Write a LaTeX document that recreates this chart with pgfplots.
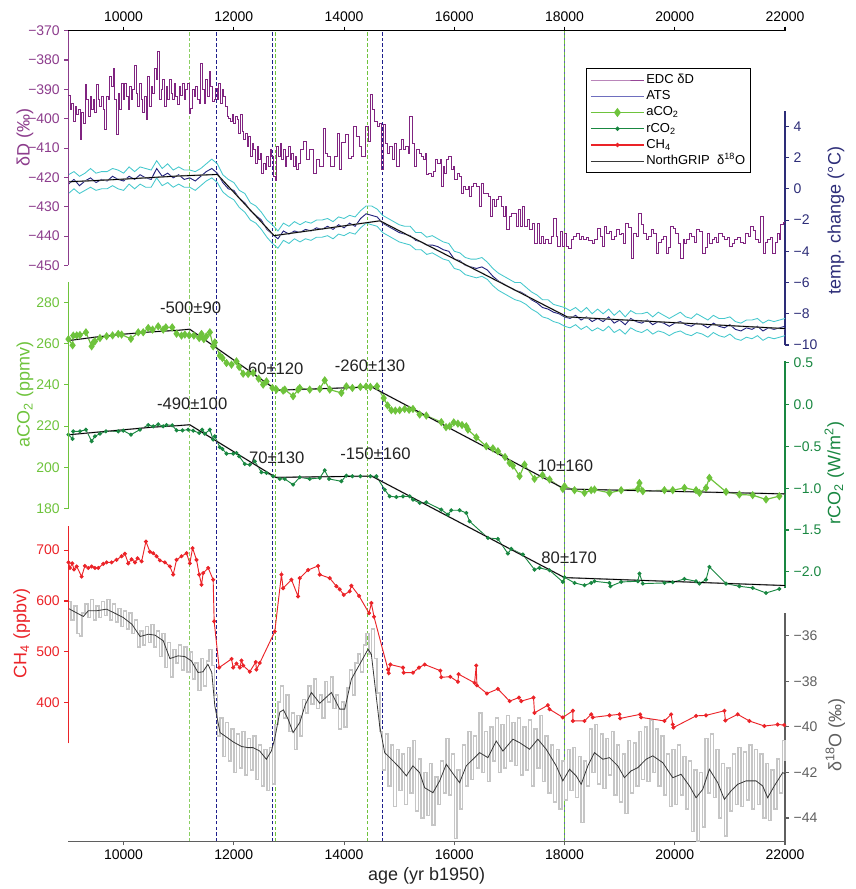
\documentclass[border=0pt]{standalone}
\usepackage{fontspec}
\setmainfont{Liberation Sans}
\usepackage{pgfplots}
\pgfplotsset{compat=1.18}
\usepackage{pgfplotstable}

\definecolor{cdD}{RGB}{128,36,128}
\definecolor{cdDl}{RGB}{150,70,150}
\definecolor{cdDax}{RGB}{140,60,140}
\definecolor{cATS}{RGB}{35,35,125}
\definecolor{cATSl}{RGB}{110,110,190}
\definecolor{cTax}{RGB}{45,45,120}
\definecolor{ccyan}{RGB}{70,200,205}
\definecolor{caCO}{RGB}{110,195,60}
\definecolor{crCO}{RGB}{25,135,65}
\definecolor{cCH}{RGB}{235,35,40}
\definecolor{cOs}{RGB}{55,55,55}
\definecolor{cOraw}{RGB}{198,198,198}
\definecolor{cOax}{RGB}{95,95,95}
\definecolor{cgd}{RGB}{110,195,60}
\definecolor{cnd}{RGB}{30,30,140}
\definecolor{ctext}{RGB}{35,35,35}

\pgfplotstableread{
yr v
9000 -392
9030 -397
9060 -394.7
9090 -401
9120 -395.9
9150 -398.7
9180 -397
9210 -407.2
9240 -398
9270 -401.6
9300 -388.5
9330 -393.6
9360 -399.3
9390 -392.5
9420 -397
9450 -393.6
9480 -398
9510 -388.5
9540 -393.6
9570 -395.9
9600 -392.5
9630 -397
9660 -403.8
9690 -392.5
9720 -393.6
9750 -385.7
9780 -389.1
9810 -382.8
9840 -393.6
9870 -405.5
9900 -391.3
9930 -397
9960 -388
9990 -393.6
10020 -388
10050 -392.5
10080 -397
10110 -389
10140 -393.6
10170 -390.2
10200 -381.7
10230 -391.3
10260 -395.9
10290 -388
10320 -393.6
10350 -398
10380 -392.5
10410 -400.4
10440 -385.7
10470 -395.9
10500 -389
10530 -391.3
10560 -382.8
10590 -386.8
10620 -377.2
10650 -393.6
10680 -390.2
10710 -386.8
10740 -395.9
10770 -389
10800 -393.6
10830 -386.8
10860 -391.3
10890 -393.6
10920 -388
10950 -392.5
10980 -395.3
11010 -389
11040 -392
11070 -388
11100 -393.6
11130 -390.2
11160 -388
11190 -398.2
11220 -396.4
11250 -390.2
11280 -392.5
11310 -389
11340 -393.6
11370 -394.7
11400 -381.1
11430 -390.2
11460 -394.7
11490 -386.8
11520 -392.5
11550 -384
11580 -389
11610 -394.2
11640 -393.6
11670 -389.6
11700 -393.6
11730 -388
11760 -394.7
11790 -390.2
11820 -392.5
11850 -395.9
11880 -399.3
11910 -399.9
11940 -401
11970 -398.7
12000 -401.6
12030 -399.3
12060 -400.4
12090 -405
12120 -398.7
12150 -404.4
12180 -407.2
12210 -405
12240 -409.5
12270 -406.1
12300 -412.9
12330 -408.4
12360 -410.6
12390 -415.2
12420 -409.5
12450 -414
12480 -411.8
12510 -418.6
12540 -415.2
12570 -417.4
12600 -412.9
12630 -416.3
12660 -410.6
12690 -412.9
12720 -419.7
12750 -420.9
12780 -409.5
12810 -412.9
12840 -408.4
12870 -414
12900 -410.6
12930 -416.3
12960 -412.9
12990 -409.5
13020 -414
13050 -411.8
13080 -416.3
13110 -412.9
13140 -417.4
13170 -415.2
13200 -410.6
13260 -407.8
13320 -414
13380 -410.6
13440 -418.6
13500 -414
13560 -416.3
13620 -403.2
13660 -411.7
13700 -412.9
13760 -416.3
13820 -412.9
13880 -405
13920 -417.4
13960 -408
14020 -405.5
14080 -413.4
14130 -412.9
14170 -402.7
14230 -406.1
14280 -409.5
14320 -413
14380 -402.7
14440 -407.8
14470 -391.9
14510 -397
14550 -401
14600 -402.7
14640 -401.5
14680 -417.4
14710 -402.1
14750 -408.3
14790 -411.7
14830 -409.5
14870 -414
14910 -408.3
14950 -416.3
15000 -410.6
15040 -407.2
15080 -410.6
15120 -409.5
15160 -411.7
15195 -399.3
15240 -408.3
15280 -416.3
15320 -410.6
15360 -411.7
15400 -412.9
15440 -414
15480 -411.7
15500 -419.1
15540 -418.6
15580 -419.7
15620 -418
15660 -414
15700 -415.2
15740 -414
15770 -423.1
15800 -416.3
15830 -418.6
15860 -414
15900 -412.9
15940 -417.4
15980 -416.3
16010 -420.8
16050 -418.6
16090 -419.7
16130 -425.4
16170 -423.1
16210 -424.2
16250 -423.1
16280 -426.5
16310 -423.1
16350 -422
16400 -423.1
16460 -429.9
16490 -422
16530 -425.4
16580 -425.4
16620 -426.5
16650 -433.3
16690 -427.6
16730 -429.9
16770 -427.6
16800 -426.5
16850 -429.9
16890 -433.3
16930 -429.9
16950 -437.8
17000 -433.3
17040 -432.2
17090 -432.2
17120 -436.7
17160 -431
17200 -436.7
17240 -429.9
17280 -436.7
17320 -434.4
17370 -437.8
17410 -435.6
17460 -442.4
17500 -435.6
17540 -442.4
17580 -440.1
17610 -442.4
17660 -441.2
17700 -442.4
17760 -440.1
17790 -433.9
17850 -440.1
17880 -443.5
17920 -438.4
17960 -443.5
18000 -439
18040 -443.5
18080 -444.1
18130 -441.2
18170 -440.1
18210 -439
18270 -441.2
18300 -440
18340 -441.2
18400 -440.3
18440 -441.5
18500 -442.4
18550 -441
18600 -437.3
18650 -440
18680 -443.5
18720 -436.7
18760 -439
18810 -438.5
18850 -441.2
18900 -440
18940 -437.9
18990 -439.5
19030 -439
19060 -442.4
19110 -435.6
19160 -437
19210 -447.5
19250 -439
19300 -440
19350 -432.2
19400 -436
19440 -439
19480 -441.2
19530 -440
19570 -437.9
19620 -439
19660 -445.8
19710 -442
19750 -441.2
19800 -440
19840 -445.8
19880 -444
19930 -436.7
19980 -437.5
20020 -439
20060 -442.4
20110 -447.5
20150 -441
20170 -442.4
20220 -441
20260 -439
20310 -440
20360 -442
20390 -437.9
20440 -438.5
20500 -445.8
20550 -444
20590 -439
20630 -442.4
20680 -441.2
20720 -440.5
20760 -442
20800 -439
20860 -440
20900 -441.2
20950 -440.6
20990 -443.5
21040 -442.4
21080 -441.2
21130 -440.3
21190 -442
21240 -442.4
21290 -439
21340 -440
21380 -436.7
21430 -438
21470 -441.2
21520 -442
21560 -433.3
21600 -445.8
21650 -442
21680 -441.2
21740 -440.5
21770 -445.8
21830 -442
21860 -439
21900 -441
21920 -436.1
21980 -435.5
22000 -435.5
}\dDdata

\pgfplotstableread{
yr ats lo hi
9000 0.3 -0.3 0.9
9100 0.6 0.0 1.1
9200 0.2 -0.3 0.8
9300 0.5 -0.1 1.0
9400 0.7 0.1 1.3
9500 0.4 -0.1 1.0
9600 0.6 0.0 1.1
9700 0.5 0.0 1.1
9800 0.8 0.2 1.3
9900 0.6 0.0 1.2
10000 0.5 -0.1 1.0
10100 0.8 0.3 1.4
10200 0.6 0.0 1.1
10300 0.9 0.3 1.4
10400 0.7 0.1 1.3
10500 0.6 0.1 1.2
10600 1.3 0.7 1.8
10700 0.8 0.2 1.3
10800 1.0 0.4 1.6
10900 0.7 0.1 1.2
11000 0.9 0.3 1.4
11100 0.6 0.1 1.2
11200 0.7 0.1 1.2
11300 0.5 -0.1 1.1
11400 0.8 0.2 1.3
11500 1.1 0.5 1.6
11600 1.3 0.7 1.9
11700 1.0 0.4 1.6
11800 0.4 -0.2 0.9
11900 0.0 -0.5 0.6
12000 -0.1 -0.7 0.4
12100 -0.6 -1.2 -0.1
12200 -0.9 -1.5 -0.3
12300 -1.4 -2.0 -0.9
12400 -1.7 -2.2 -1.1
12500 -2.0 -2.6 -1.5
12600 -2.6 -3.1 -2.0
12700 -2.9 -3.5 -2.3
12800 -3.2 -3.8 -2.7
12900 -2.7 -3.3 -2.2
13000 -2.9 -3.5 -2.4
13100 -2.7 -3.2 -2.1
13200 -2.8 -3.4 -2.3
13300 -2.6 -3.2 -2.1
13400 -2.7 -3.3 -2.2
13500 -2.5 -3.1 -2.0
13600 -2.6 -3.1 -2.0
13700 -2.4 -3.0 -1.9
13800 -2.6 -3.2 -2.1
13900 -2.3 -2.9 -1.8
14000 -2.5 -3.0 -1.9
14100 -2.2 -2.8 -1.7
14200 -2.4 -2.9 -1.8
14300 -1.9 -2.5 -1.4
14400 -1.6 -2.2 -1.1
14500 -1.7 -2.3 -1.1
14600 -1.8 -2.4 -1.3
14700 -2.2 -2.8 -1.7
14800 -2.4 -3.0 -1.9
14900 -2.6 -3.2 -2.1
15000 -2.8 -3.4 -2.3
15100 -2.9 -3.5 -2.4
15200 -3.0 -3.6 -2.4
15300 -3.3 -3.9 -2.8
15400 -3.4 -3.9 -2.8
15500 -3.6 -4.2 -3.1
15600 -3.6 -4.1 -3.0
15700 -3.7 -4.3 -3.2
15800 -3.9 -4.5 -3.4
15900 -4.0 -4.6 -3.5
16000 -4.5 -5.1 -4.0
16100 -4.6 -5.2 -4.1
16200 -4.9 -5.5 -4.4
16300 -5.0 -5.6 -4.5
16400 -5.1 -5.7 -4.5
16500 -5.0 -5.6 -4.4
16600 -5.2 -5.8 -4.7
16700 -5.6 -6.2 -5.1
16800 -5.9 -6.5 -5.4
16900 -6.1 -6.7 -5.6
17000 -6.3 -6.9 -5.8
17100 -6.5 -7.1 -6.0
17200 -6.6 -7.2 -6.0
17300 -6.8 -7.4 -6.3
17400 -7.1 -7.7 -6.6
17500 -7.3 -7.9 -6.8
17600 -7.6 -8.2 -7.1
17700 -7.7 -8.3 -7.1
17800 -7.9 -8.5 -7.4
17900 -8.0 -8.6 -7.5
18000 -8.2 -8.8 -7.6
18100 -8.3 -8.9 -7.8
18200 -8.1 -8.7 -7.6
18300 -8.4 -9.0 -7.9
18400 -8.2 -8.8 -7.6
18500 -8.5 -9.1 -8.0
18600 -8.3 -8.9 -7.7
18700 -8.5 -9.1 -8.0
18800 -8.2 -8.8 -7.7
18900 -8.6 -9.2 -8.1
19000 -8.4 -9.0 -7.8
19100 -8.7 -9.3 -8.2
19200 -8.3 -8.9 -7.8
19300 -8.5 -9.1 -8.0
19400 -8.6 -9.2 -8.0
19500 -8.4 -9.0 -7.9
19600 -8.7 -9.3 -8.2
19700 -8.5 -9.1 -7.9
19800 -8.6 -9.2 -8.1
19900 -8.8 -9.4 -8.3
20000 -8.6 -9.2 -8.1
20100 -8.5 -9.1 -7.9
20200 -8.7 -9.3 -8.2
20300 -8.8 -9.4 -8.3
20400 -8.6 -9.2 -8.0
20500 -8.7 -9.3 -8.2
20600 -8.9 -9.5 -8.4
20700 -8.6 -9.2 -8.1
20800 -8.8 -9.4 -8.3
20900 -8.9 -9.5 -8.3
21000 -8.7 -9.3 -8.2
21100 -9.0 -9.6 -8.5
21200 -9.1 -9.7 -8.6
21300 -8.9 -9.5 -8.4
21400 -9.0 -9.6 -8.4
21500 -8.8 -9.4 -8.3
21600 -9.1 -9.7 -8.6
21700 -8.9 -9.5 -8.4
21800 -9.0 -9.6 -8.5
21900 -8.9 -9.5 -8.4
22000 -8.8 -9.4 -8.3
}\atsdata

\pgfplotstableread{
yr v
9000 262.2
9075 259.2
9087 263.9
9150 264.0
9208 264.2
9317 265.5
9420 258.7
9450 260.5
9480 261.1
9571 262.7
9692 263.6
9800 264.0
9903 264.7
9964 264.4
10133 262.3
10266 265.5
10356 265.5
10447 267.6
10526 266.8
10628 268.4
10719 266.8
10767 267.9
10882 267.9
10961 264.8
11051 263.9
11112 264.4
11190 264.0
11275 263.9
11372 262.7
11414 264.7
11456 262.2
11500 263.5
11565 265.5
11625 258.7
11655 260.6
11746 254.2
11794 253.0
11867 250.6
11958 249.8
12048 251.4
12097 248.7
12169 245.4
12260 245.3
12350 245.8
12450 243.0
12532 240.1
12592 241.7
12700 238.5
12773 237.7
12894 237.2
12924 237.7
13075 234.5
13166 237.7
13196 238.5
13377 237.7
13559 238.0
13649 242.2
13740 237.7
13951 236.1
14042 239.3
14151 238.5
14296 239.0
14400 239.2
14477 239.0
14598 239.3
14719 233.6
14790 230.0
14858 227.7
14930 227.5
15009 227.7
15099 228.3
15180 227.9
15250 228.3
15371 225.6
15492 225.1
15764 221.9
15850 219.5
15915 219.9
15990 221.8
16065 221.2
16140 220.5
16217 219.9
16247 218.3
16400 214.5
16580 210.2
16700 209.2
16791 207.8
16920 205.0
17003 202.1
17063 200.8
17184 195.7
17274 201.3
17455 194.4
17600 196.2
17728 194.1
17969 189.5
17999 190.8
18181 188.9
18362 187.6
18483 188.9
18543 189.2
18815 187.6
19027 188.9
19329 189.5
19359 192.4
19420 188.4
19812 188.9
19963 188.9
20175 190.0
20386 188.9
20447 187.6
20567 190.0
20628 194.9
20930 188.1
21172 186.8
21413 186.5
21655 184.4
21896 186.0
}\aCOdata

\pgfplotstableread{
yr v
9000 -0.359
9075 -0.410
9087 -0.319
9208 -0.319
9317 -0.299
9420 -0.438
9480 -0.378
9571 -0.347
9680 -0.319
9903 -0.319
9994 -0.311
10133 -0.359
10296 -0.299
10447 -0.243
10538 -0.259
10628 -0.235
10719 -0.259
10779 -0.243
10882 -0.247
10961 -0.307
11069 -0.307
11172 -0.299
11263 -0.311
11372 -0.339
11426 -0.299
11474 -0.347
11565 -0.299
11625 -0.418
11655 -0.378
11746 -0.510
11794 -0.530
11867 -0.586
11988 -0.586
12048 -0.578
12097 -0.618
12199 -0.710
12290 -0.718
12380 -0.678
12501 -0.809
12592 -0.817
12713 -0.857
12834 -0.889
12924 -0.889
13075 -0.957
13196 -0.869
13377 -0.889
13559 -0.877
13649 -0.785
13728 -0.889
13951 -0.917
14042 -0.849
14151 -0.857
14296 -0.857
14477 -0.857
14586 -0.857
14737 -1.017
14827 -1.097
14948 -1.105
15069 -1.097
15190 -1.097
15250 -1.136
15371 -1.176
15492 -1.168
15764 -1.256
15885 -1.316
15945 -1.264
16096 -1.264
16217 -1.296
16277 -1.396
16610 -1.595
16791 -1.607
16972 -1.782
17033 -1.726
17244 -1.794
17455 -1.974
17546 -1.954
17728 -1.982
17969 -2.122
17999 -2.066
18181 -2.134
18362 -2.162
18483 -2.134
18543 -2.114
18815 -2.134
18833 -2.174
19027 -2.122
19329 -2.114
19359 -2.022
19420 -2.142
19812 -2.134
19963 -2.126
20175 -2.086
20386 -2.114
20447 -2.142
20567 -2.094
20628 -1.942
20930 -2.142
21172 -2.174
21413 -2.194
21655 -2.254
21896 -2.206
}\rCOdata

\pgfplotstableread{
yr v
9000 676
9027 665
9069 674
9100 662
9150 668
9238 648
9298 669
9359 665
9420 668
9480 665
9541 665
9631 673
9692 676
9782 676
9873 681
9964 688
10024 693
10085 674
10145 682
10206 676
10254 684
10327 678
10405 717
10477 697
10538 694
10598 688
10658 680
10749 676
10840 668
10900 652
10961 681
11051 688
11142 694
11202 674
11251 704
11323 681
11372 652
11414 632
11444 655
11535 665
11625 642
11643 560
11734 469
11958 486
11988 469
12048 477
12109 469
12139 483
12169 473
12290 461
12398 480
12410 465
12471 478
12743 540
12864 652
12894 625
13045 642
13166 609
13196 645
13347 661
13528 669
13559 652
13740 645
13861 629
13921 623
13994 612
14102 619
14133 630
14272 610
14453 576
14495 596
14543 569
14797 465
14810 458
14840 475
15069 469
15081 459
15250 459
15359 469
15462 475
15746 463
15764 450
15927 451
16066 441
16078 456
16368 439
16398 473
16410 434
16592 418
16791 427
17003 403
17172 410
17214 403
17437 410
17455 380
17697 395
17728 387
17969 371
18151 384
18151 364
18362 364
18483 377
18513 371
18815 375
18996 377
19008 369
19371 377
19389 371
19812 364
19933 377
19963 357
19975 351
20386 374
20567 375
20900 384
20918 365
21141 377
21353 364
21625 354
21866 357
21987 356
}\CHdata

\pgfplotstableread{
yr v
9000 -34.80
9130 -34.97
9270 -35.15
9360 -34.90
9510 -34.90
9690 -34.83
9810 -34.97
9990 -35.19
10150 -35.49
10300 -36.03
10450 -35.93
10570 -35.97
10720 -36.22
10840 -37.0
10990 -36.88
11110 -36.91
11230 -37.10
11350 -37.61
11440 -37.58
11530 -37.25
11600 -37.61
11655 -39.08
11750 -40.25
11840 -40.40
11990 -40.66
12140 -40.86
12260 -40.91
12350 -40.91
12470 -41.06
12590 -41.42
12680 -41.06
12740 -40.54
12834 -39.35
12900 -39.25
12985 -39.66
13075 -40.25
13196 -39.81
13300 -39.0
13408 -38.49
13559 -38.96
13770 -38.49
13921 -39.22
14012 -39.22
14133 -37.90
14284 -37.25
14435 -36.59
14495 -36.81
14646 -39.96
14737 -41.13
14858 -41.42
15009 -41.79
15130 -42.15
15250 -41.71
15371 -42.01
15462 -42.67
15613 -42.89
15734 -42.37
15855 -41.64
16005 -42.15
16096 -42.45
16217 -41.71
16459 -41.13
16610 -41.35
16761 -40.62
16882 -41.06
17063 -40.54
17184 -40.69
17365 -40.98
17516 -40.54
17667 -40.98
17849 -41.71
17969 -42.37
18090 -41.86
18211 -42.15
18302 -42.52
18423 -41.71
18543 -41.13
18694 -41.42
18815 -41.35
18966 -41.71
19087 -42.23
19208 -41.93
19329 -41.79
19480 -41.42
19601 -41.27
19782 -41.57
19963 -42.23
20114 -42.08
20266 -42.59
20386 -43.11
20507 -42.74
20628 -41.86
20779 -42.45
20900 -43.18
21020 -42.81
21141 -42.52
21292 -42.37
21474 -42.37
21594 -42.59
21685 -43.11
21806 -42.59
21957 -42.01
22000 -42.05
}\Osdata

\pgfplotstableread{
yr v
9000 -34.5
9050 -35.3
9100 -34.7
9150 -35.9
9200 -36.0
9250 -35.0
9300 -34.6
9350 -35.2
9400 -34.4
9450 -35.3
9500 -34.7
9550 -35.2
9600 -34.5
9650 -35.1
9700 -34.4
9750 -35.3
9800 -34.6
9850 -35.4
9900 -34.8
9950 -35.6
10000 -34.9
10050 -35.7
10100 -35.0
10150 -35.9
10200 -35.3
10250 -36.5
10300 -35.8
10350 -36.4
10400 -35.6
10450 -36.3
10500 -35.5
10550 -36.5
10600 -35.8
10650 -36.9
10700 -35.9
10750 -37.4
10800 -36.3
10850 -37.8
10900 -36.6
10950 -37.2
11000 -36.4
11050 -37.5
11100 -36.5
11150 -37.6
11200 -36.7
11250 -37.9
11300 -37.2
11350 -38.4
11400 -37.0
11450 -38.2
11500 -37.1
11550 -36.6
11600 -37.3
11650 -38.6
11700 -40.4
11750 -39.6
11800 -41.3
11850 -39.8
11900 -41.5
11950 -40.1
12000 -42.0
12050 -40.3
12100 -41.8
12150 -40.2
12200 -42.1
12250 -40.5
12300 -41.9
12350 -40.4
12400 -42.3
12450 -40.8
12500 -42.6
12550 -41.0
12600 -42.8
12650 -40.9
12700 -42.5
12750 -39.9
12800 -38.9
12850 -38.2
12900 -39.6
12950 -38.6
13000 -40.2
13050 -39.4
13100 -41.0
13150 -39.5
13200 -40.4
13250 -38.8
13300 -39.4
13350 -38.2
13400 -39.0
13450 -37.9
13500 -39.2
13550 -38.6
13600 -39.6
13650 -38.0
13700 -38.9
13750 -37.8
13800 -39.2
13850 -38.6
13900 -40.1
13950 -38.9
14000 -40.0
14050 -38.3
14100 -37.5
14150 -38.6
14200 -37.2
14250 -36.8
14300 -37.6
14350 -36.4
14400 -35.9
14450 -36.8
14500 -35.7
14550 -37.0
14600 -38.5
14650 -40.2
14700 -41.9
14750 -40.3
14800 -42.6
14850 -40.8
14900 -43.5
14950 -41.0
15000 -42.8
15050 -41.2
15100 -43.4
15150 -40.9
15200 -42.9
15250 -40.6
15300 -43.7
15350 -41.4
15400 -44.0
15450 -42.0
15500 -43.9
15550 -41.6
15600 -44.3
15650 -42.2
15700 -43.4
15750 -41.5
15800 -42.9
15850 -40.5
15900 -43.0
15950 -41.2
16000 -44.9
16050 -41.9
16100 -43.6
16150 -40.8
16200 -42.6
16250 -40.2
16300 -42.3
16350 -40.4
16400 -41.8
16450 -39.4
16500 -42.0
16550 -40.2
16600 -42.4
16650 -40.0
16700 -41.5
16750 -39.6
16800 -42.0
16850 -39.9
16900 -41.8
16950 -39.5
17000 -41.5
17050 -39.8
17100 -41.7
17150 -39.6
17200 -42.1
17250 -40.0
17300 -41.9
17350 -39.7
17400 -42.6
17450 -40.1
17500 -41.8
17550 -39.5
17600 -42.4
17650 -40.4
17700 -42.9
17750 -40.8
17800 -43.3
17850 -41.0
17900 -43.6
17950 -41.5
18000 -43.2
18050 -41.0
18100 -42.8
18150 -40.9
18200 -43.1
18250 -41.3
18300 -44.2
18350 -41.5
18400 -42.6
18450 -40.1
18500 -42.0
18550 -39.9
18600 -42.5
18650 -40.3
18700 -42.7
18750 -40.5
18800 -42.1
18850 -40.2
18900 -43.0
18950 -40.8
19000 -43.3
19050 -41.2
19100 -43.8
19150 -40.6
19200 -42.9
19250 -40.7
19300 -42.6
19350 -40.2
19400 -42.3
19450 -40.0
19500 -42.4
19550 -39.7
19600 -42.0
19650 -40.1
19700 -42.6
19750 -40.4
19800 -43.0
19850 -41.2
19900 -43.5
19950 -41.0
20000 -43.4
20050 -40.8
20100 -43.0
20150 -41.3
20200 -43.6
20250 -41.5
20300 -44.6
20350 -41.9
20400 -45.0
20450 -42.0
20500 -44.4
20550 -40.5
20600 -42.9
20650 -40.3
20700 -43.1
20750 -41.0
20800 -44.0
20850 -41.6
20900 -44.8
20950 -41.8
21000 -43.7
21050 -41.2
21100 -43.4
21150 -40.9
21200 -43.5
21250 -41.1
21300 -43.2
21350 -40.8
21400 -43.6
21450 -41.0
21500 -43.4
21550 -41.2
21600 -44.0
21650 -41.6
21700 -44.1
21750 -41.9
21800 -43.6
21850 -41.4
21900 -42.9
21950 -40.6
22000 -41.5
}\Orawdata

\pgfplotsset{
  base/.style={scale only axis, width=537.9pt, xmin=9000, xmax=22000, clip=false,
    anchor=south west, tick align=outside, major tick length=3pt,
    axis line style={-}, scaled x ticks=false, scaled y ticks=false,
    ticklabel style={font=\fontsize{10.5}{12}\selectfont}},
  leftax/.style={hide x axis, axis y line*=left, ytick pos=left, yticklabel pos=left,
    y axis line style={#1, line width=0.8pt}, ytick style={#1, line width=0.8pt},
    yticklabel style={text=#1}},
  rightax/.style={hide x axis, axis y line*=right, ytick pos=right, yticklabel pos=right,
    y axis line style={#1, line width=0.8pt}, ytick style={#1, line width=0.8pt},
    yticklabel style={text=#1}},
}

\begin{document}
\begin{tikzpicture}
\path (-51.4pt,-35.25pt) rectangle (590.6pt,631.5pt);

% frame: top axis
\begin{axis}[base, at={(0pt,0pt)}, height=608.5pt, ymin=0, ymax=1, hide y axis,
  axis x line*=top, xtick pos=right, xticklabel pos=right,
  x axis line style={black, line width=0.8pt}, xtick style={black, line width=0.8pt},
  xtick={10000,12000,14000,16000,18000,20000,22000},
  xticklabels={10000,12000,14000,16000,18000,20000,22000}]
\end{axis}

% frame: bottom axis, dashed lines, labels
\begin{axis}[base, at={(0pt,0pt)}, height=608.5pt, ymin=0, ymax=1, hide y axis,
  axis x line*=bottom, xtick pos=left, xticklabel pos=left,
  x axis line style={cOax, line width=0.9pt}, xtick style={cOax, line width=0.8pt},
  xtick={10000,12000,14000,16000,18000,20000,22000},
  xticklabels={10000,12000,14000,16000,18000,20000,22000}]
\addplot[forget plot, cgd!80, line width=0.7pt, dash pattern=on 2.6pt off 1.6pt] coordinates {(11190,0) (11190,1)};
\addplot[forget plot, cnd, line width=0.7pt, dash pattern=on 2.6pt off 1.6pt] coordinates {(11690,0) (11690,1)};
\addplot[forget plot, cnd, line width=0.7pt, dash pattern=on 2.6pt off 1.6pt] coordinates {(12700,0) (12700,1)};
\addplot[forget plot, cgd, line width=0.7pt, dash pattern=on 2.6pt off 1.6pt] coordinates {(12760,0) (12760,1)};
\addplot[forget plot, cgd, line width=0.7pt, dash pattern=on 2.6pt off 1.6pt] coordinates {(14430,0) (14430,1)};
\addplot[forget plot, cnd, line width=0.7pt, dash pattern=on 2.6pt off 1.6pt] coordinates {(14690,0) (14690,1)};
\addplot[forget plot, cnd!70, line width=0.7pt, dash pattern=on 2.6pt off 1.6pt] coordinates {(18000,0) (18000,1)};
\addplot[forget plot, cgd, line width=0.7pt, dash pattern=on 2.6pt off 1.6pt, dash phase=2pt] coordinates {(18000,0) (18000,1)};
\begin{scope}[every node/.style={font=\fontsize{13.5}{16}\selectfont}]
\node[rotate=90, text=cdDax] at (rel axis cs:-0.0607,0.8677) {δD (‰)};
\node[rotate=90, text=cTax] at (rel axis cs:1.0711,0.7654) {temp. change (°C)};
\node[rotate=90, text=caCO] at (rel axis cs:-0.0607,0.551) {aCO\textsubscript{2} (ppmv)};
\node[rotate=90, text=crCO] at (rel axis cs:1.0687,0.4542) {rCO\textsubscript{2} (W/m\textsuperscript{2})};
\node[rotate=90, text=cCH] at (rel axis cs:-0.0653,0.2564) {CH\textsubscript{4} (ppbv)};
\node[rotate=90, text=cOax] at (rel axis cs:1.0701,0.131) {δ\textsuperscript{18}O (‰)};
\node[text=ctext] at (rel axis cs:0.4998,-0.0431) {age (yr b1950)};
\end{scope}
\begin{scope}[every node/.style={font=\fontsize{12.5}{15}\selectfont, text=ctext}]
\node at (rel axis cs:0.1704,0.6582) {-500±90};
\node at (rel axis cs:0.2893,0.5826) {60±120};
\node at (rel axis cs:0.4208,0.5867) {-260±130};
\node at (rel axis cs:0.1726,0.5395) {-490±100};
\node at (rel axis cs:0.2907,0.4730) {70±130};
\node at (rel axis cs:0.4285,0.4774) {-150±160};
\node at (rel axis cs:0.6934,0.4626) {10±160};
\node at (rel axis cs:0.6988,0.3497) {80±170};
\end{scope}
\end{axis}

% delta18O
\begin{axis}[base, rightax=cOax, at={(0pt,0pt)}, height=171.3pt, ymin=-45.02, ymax=-35,
  ytick={-44,-42,-40,-38,-36}, yticklabels={−44,−42,−40,−38,−36}]
\addplot[const plot, cOraw, line width=1.15pt] table[x=yr, y=v] {\Orawdata};
\addplot[cOs, line width=0.6pt] table[x=yr, y=v] {\Osdata};
\end{axis}

% CH4
\begin{axis}[base, leftax=cCH, at={(0pt,73.5pt)}, height=163.3pt, ymin=320, ymax=748,
  ytick={400,500,600,700}, yticklabels={400,500,600,700}]
\addplot[cCH, line width=0.7pt, mark=*, mark size=1.15pt] table[x=yr, y=v] {\CHdata};
\end{axis}

% rCO2
\begin{axis}[base, rightax=crCO, at={(0pt,189.75pt)}, height=170.55pt, ymin=-2.2, ymax=0.52,
  ytick={-2,-1.5,-1,-0.5,0,0.5}, yticklabels={−2.0,−1.5,−1.0,−0.5,0.0,0.5}]
\addplot[crCO, line width=0.7pt, mark=*, mark size=1.15pt] table[x=yr, y=v] {\rCOdata};
\addplot[gray!70, line width=1.1pt] coordinates {(9000,-0.36) (9500,-0.33) (10000,-0.30) (10500,-0.27) (11000,-0.25) (11200,-0.24) (12760,-0.87) (14500,-0.855) (18000,-2.07) (22000,-2.165)};
\addplot[black, line width=0.6pt] coordinates {(9000,-0.36) (9500,-0.33) (10000,-0.30) (10500,-0.27) (11000,-0.25) (11200,-0.24) (12760,-0.87) (14500,-0.855) (18000,-2.07) (22000,-2.165)};
\end{axis}

% aCO2
\begin{axis}[base, leftax=caCO, at={(0pt,249.75pt)}, height=170.2pt, ymin=180, ymax=290,
  ytick={180,200,220,240,260,280}, yticklabels={180,200,220,240,260,280}]
\addplot[caCO, line width=0.9pt, mark=diamond*, mark size=2.4pt] table[x=yr, y=v] {\aCOdata};
\addplot[gray!70, line width=1.1pt] coordinates {(9000,261.5) (9500,263.2) (10000,264.6) (10500,265.7) (11000,266.5) (11200,267.0) (12780,237.4) (14500,239.0) (18000,189.5) (22000,187.1)};
\addplot[black, line width=0.6pt] coordinates {(9000,261.5) (9500,263.2) (10000,264.6) (10500,265.7) (11000,266.5) (11200,267.0) (12780,237.4) (14500,239.0) (18000,189.5) (22000,187.1)};
\end{axis}

% temperature (ATS)
\begin{axis}[base, rightax=cTax, at={(0pt,372.5pt)}, height=175.9pt, ymin=-10, ymax=5,
  ytick={-10,-8,-6,-4,-2,0,2,4}, yticklabels={−10,−8,−6,−4,−2,0,2,4}]
\addplot[ccyan, line width=0.65pt] table[x=yr, y=lo] {\atsdata};
\addplot[ccyan, line width=0.65pt] table[x=yr, y=hi] {\atsdata};
\addplot[cATS, line width=0.7pt] table[x=yr, y=ats] {\atsdata};
\addplot[gray!70, line width=1.1pt] coordinates {(9000,0.45) (9500,0.53) (10000,0.62) (10500,0.72) (11000,0.82) (11500,0.89) (11700,0.92) (12730,-3.0) (14650,-2.05) (18050,-8.2) (22000,-8.95)};
\addplot[black, line width=0.6pt] coordinates {(9000,0.45) (9500,0.53) (10000,0.62) (10500,0.72) (11000,0.82) (11500,0.89) (11700,0.92) (12730,-3.0) (14650,-2.05) (18050,-8.2) (22000,-8.95)};
\end{axis}

% deltaD
\begin{axis}[base, leftax=cdDax, at={(0pt,432.2pt)}, height=176.3pt, ymin=-450, ymax=-370,
  ytick={-450,-440,-430,-420,-410,-400,-390,-380,-370},
  yticklabels={−450,−440,−430,−420,−410,−400,−390,−380,−370}]
\addplot[const plot, cdD, line width=0.7pt] table[x=yr, y=v] {\dDdata};
\end{axis}

% legend
\begin{axis}[base, at={(0pt,0pt)}, height=608.5pt, ymin=0, ymax=1, hide axis,
  legend image code/.code={\draw[mark repeat=2, mark phase=2, #1] plot coordinates {(0pt,0pt) (20pt,0pt) (40pt,0pt)};},
  legend cell align=left,
  legend style={at={(rel axis cs:0.7216,0.9537)}, anchor=north west, draw=black, line width=0.6pt,
    fill=white, font=\fontsize{9.75}{11.5}\selectfont, inner xsep=3pt, inner ysep=2.5pt,
    nodes={text height=7.6pt, text depth=2.6pt, inner sep=1pt}, row sep=0pt}]
\addlegendimage{cdDl, line width=0.7pt}
\addlegendentry{EDC δD}
\addlegendimage{cATSl, line width=0.8pt}
\addlegendentry{ATS}
\addlegendimage{caCO, line width=1.3pt, mark=diamond*, mark size=2.4pt}
\addlegendentry{aCO\textsubscript{2}}
\addlegendimage{crCO, line width=0.8pt, mark=*, mark size=1.2pt}
\addlegendentry{rCO\textsubscript{2}}
\addlegendimage{cCH, line width=0.8pt, mark=*, mark size=1.2pt}
\addlegendentry{CH\textsubscript{4}}
\addlegendimage{cOs, line width=0.6pt}
\addlegendentry{NorthGRIP\ \ δ\textsuperscript{18}O}
\end{axis}
\end{tikzpicture}
\end{document}
